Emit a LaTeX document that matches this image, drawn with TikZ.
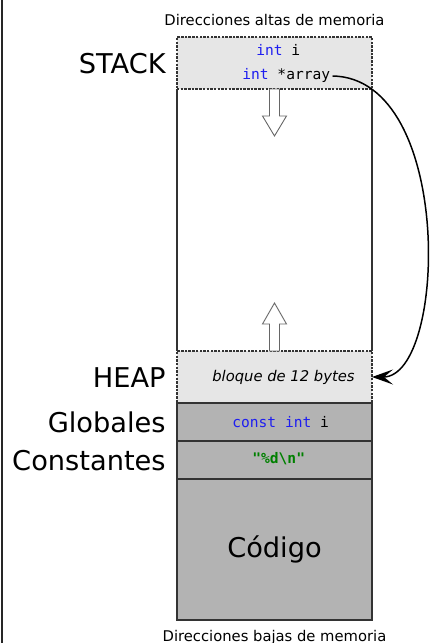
\documentclass[tikz,border=0pt]{standalone}
\usepackage{fontspec}
\setmainfont{DejaVu Sans}
\setmonofont{DejaVu Sans Mono}
\usepackage{xcolor}
\usetikzlibrary{arrows.meta,positioning}
\definecolor{kwblue}{RGB}{30,30,240}
\definecolor{strgreen}{RGB}{0,128,0}
\definecolor{segdark}{RGB}{179,179,179}
\definecolor{seglight}{RGB}{230,230,230}
\newcommand{\kw}[1]{\textcolor{kwblue}{#1}}

\begin{document}
\begin{tikzpicture}[
  seg/.style={draw=black!80,line width=0.7pt,fill=segdark,minimum width=3.9cm,inner sep=0pt,outer sep=0pt},
  dynseg/.style={seg,fill=seglight,line width=0.6pt,dash pattern=on 1.4pt off 0.7pt},
  seglabel/.style={inner sep=0pt,font=\fontsize{15.5}{18}\selectfont},
  addr/.style={inner sep=0pt,font=\fontsize{8.4}{10}\selectfont},
  code/.style={inner sep=0pt,font=\ttfamily\fontsize{8.3}{10}\selectfont},
  hollow/.style={draw=black!60,fill=white,line width=0.5pt}
]
\useasboundingbox (0,0) rectangle (8.6,-12.86);
\draw[line width=0.9pt,black!85] (0.04,0) -- (0.04,-12.86);

% memory column
\node[dynseg,minimum height=1.04cm] (stack) at (5.49,-1.26) {};
\node[seg,draw=none,fill=none,minimum height=5.24cm,below=0pt of stack] (free) {};
\node[dynseg,minimum height=1.04cm,below=0pt of free] (heap) {};
\node[seg,minimum height=0.76cm,below=0pt of heap] (glob) {};
\node[seg,minimum height=0.76cm,below=0pt of glob] (const) {};
\node[seg,minimum height=2.82cm,below=0pt of const,font=\fontsize{15.5}{18}\selectfont] (codigo) {Código};
\draw[black!80,line width=0.7pt] (free.north west) -- (free.south west);
\draw[black!80,line width=0.7pt] (free.north east) -- (free.south east);

% growth arrows
\draw[hollow] ([xshift=-0.1cm]free.north) -- ++(0,-0.54) -- ++(-0.14,0) -- ++(0.24,-0.4)
  -- ++(0.24,0.4) -- ++(-0.14,0) -- ++(0,0.54) -- cycle;
\draw[hollow] ([xshift=-0.1cm]free.south) -- ++(0,0.54) -- ++(-0.14,0) -- ++(0.24,0.42)
  -- ++(0.24,-0.42) -- ++(-0.14,0) -- ++(0,-0.54) -- cycle;

% contents
\node[code,anchor=base west] (vari) at ([xshift=-0.37cm,yshift=0.16cm]stack.center) {\kw{int} i};
\node[code,anchor=base west] (array) at ([xshift=-0.65cm,yshift=-0.32cm]stack.center) {\kw{int} *array};
\node[addr,anchor=base west,font=\itshape\fontsize{8.4}{10}\selectfont] (bloque) at ([xshift=-1.25cm,yshift=-0.08cm]heap.center) {bloque de 12 bytes};
\node[code,anchor=base west] (cint) at ([xshift=-0.85cm,yshift=-0.1cm]glob.center) {\kw{const} \kw{int} i};
\node[code,anchor=base west,font=\ttfamily\bfseries\fontsize{8.3}{10}\selectfont,text=strgreen] (fmt) at ([xshift=-0.45cm,yshift=-0.06cm]const.center) {"\%d\textbackslash n"};

% labels
\node[seglabel,anchor=base east] (lstack) at ([xshift=-0.22cm,yshift=-0.2cm]stack.west) {STACK};
\node[seglabel,anchor=base east] (lheap) at ([xshift=-0.22cm,yshift=-0.2cm]heap.west) {HEAP};
\node[seglabel,anchor=base east] (lglob) at ([xshift=-0.22cm,yshift=-0.2cm]glob.west) {Globales};
\node[seglabel,anchor=base east] (lconst) at ([xshift=-0.22cm,yshift=-0.2cm]const.west) {Constantes};
\node[addr,anchor=base] (alta) at ([yshift=0.24cm]stack.north) {Direcciones altas de memoria};
\node[addr,anchor=base] (baja) at ([yshift=-0.42cm]codigo.south) {Direcciones bajas de memoria};

% pointer
\draw[line width=0.85pt,-{Stealth[length=0.42cm,width=0.3cm,inset=0.18cm]}] ([xshift=0.04cm,yshift=-0.02cm]array.east) .. controls +(2.44,-0.04) and +(1.5,0.0) .. (heap.east);
\end{tikzpicture}
\end{document}
